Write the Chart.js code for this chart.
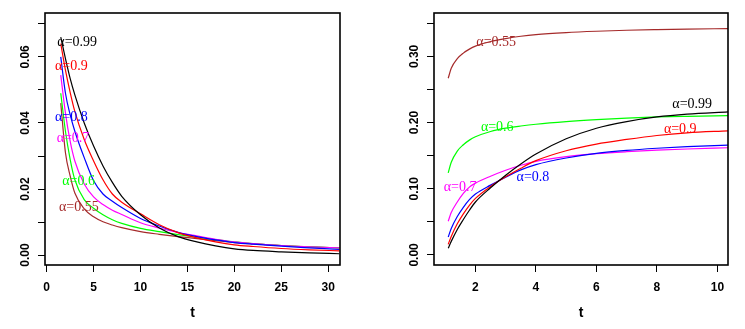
<!DOCTYPE html>
<html>
<head>
<meta charset="utf-8">
<script src="https://cdn.jsdelivr.net/npm/chart.js@4"></script>
<style>
  html, body { margin: 0; padding: 0; background: #fff; }
  #wrap { position: relative; width: 745px; height: 329px; }
  canvas { position: absolute; top: 0; }
</style>
</head>
<body>
<div id="wrap">
  <canvas id="left" width="372" height="329" style="left:0"></canvas>
  <canvas id="right" width="373" height="329" style="left:372px"></canvas>
</div>
<script>
// ---- shared ----
const ALPHAS = ['0.99', '0.9', '0.8', '0.7', '0.6', '0.55'];
const COLORS = ['#000000', '#ff0000', '#0000ff', '#ff00ff', '#00ff00', '#a52a2a'];

// ---- left panel: decaying curves ----
const LEFT_T = [1.5, 2, 2.5, 3, 4, 5, 6, 7, 8, 10, 12, 14, 16, 18, 20, 22, 25, 28, 31.2];
const LEFT_A099 = [0.066, 0.0595, 0.0535, 0.0485, 0.040, 0.033, 0.027, 0.022, 0.0178, 0.0122, 0.0082, 0.0056, 0.0040, 0.0028, 0.0019, 0.0014, 0.0010, 0.0007, 0.0004];
const LEFT_A09  = [0.064, 0.056, 0.0493, 0.0435, 0.0350, 0.0285, 0.0228, 0.0185, 0.0160, 0.0125, 0.0092, 0.0068, 0.0052, 0.0040, 0.0031, 0.0026, 0.0020, 0.0016, 0.0013];
const LEFT_A08  = [0.060, 0.049, 0.0425, 0.0375, 0.0295, 0.0225, 0.0185, 0.0163, 0.0144, 0.0111, 0.0088, 0.0069, 0.0056, 0.0046, 0.0038, 0.0033, 0.0027, 0.0022, 0.0017];
const LEFT_A07  = [0.0545, 0.043, 0.0345, 0.0285, 0.0215, 0.0176, 0.0153, 0.0136, 0.0123, 0.0098, 0.0082, 0.0068, 0.0058, 0.0048, 0.0040, 0.0035, 0.0029, 0.0025, 0.0022];
const LEFT_A06  = [0.049, 0.0375, 0.029, 0.0228, 0.0168, 0.0142, 0.0122, 0.0107, 0.0096, 0.0081, 0.0071, 0.0062, 0.0054, 0.0047, 0.0040, 0.0035, 0.0029, 0.0025, 0.0022];
const LEFT_A055 = [0.046, 0.031, 0.024, 0.0188, 0.0140, 0.0116, 0.0101, 0.0091, 0.0083, 0.0071, 0.0063, 0.0056, 0.0050, 0.0044, 0.0038, 0.0034, 0.0029, 0.0025, 0.0022];
const LEFT_X_TICKS = [0, 5, 10, 15, 20, 25, 30];
const LEFT_Y_TICKS = [0, 0.01, 0.02, 0.03, 0.04, 0.05, 0.06, 0.07];
const LEFT_Y_LABELS = [0, 0.02, 0.04, 0.06];
// curve label anchors (t, value), left-aligned text
const LEFT_LABEL_T = [1.13, 0.88, 0.88, 1.06, 1.66, 1.31];
const LEFT_LABEL_V = [0.0645, 0.0571, 0.0416, 0.0355, 0.0222, 0.0146];

// ---- right panel: rising curves ----
const RIGHT_T = [1.1, 1.2, 1.4, 1.6, 1.8, 2, 2.5, 3, 3.5, 4, 5, 6, 7, 8, 9, 10.35];
const RIGHT_A099 = [0.010, 0.0205, 0.0385, 0.0535, 0.0675, 0.080, 0.1015, 0.1205, 0.1375, 0.1525, 0.1755, 0.1915, 0.2015, 0.2085, 0.2128, 0.2162];
const RIGHT_A09  = [0.016, 0.028, 0.047, 0.062, 0.075, 0.0855, 0.1035, 0.118, 0.131, 0.1425, 0.1575, 0.1675, 0.1745, 0.1805, 0.1845, 0.1875];
const RIGHT_A08  = [0.027, 0.040, 0.058, 0.072, 0.0835, 0.092, 0.1055, 0.1175, 0.1285, 0.1365, 0.1465, 0.1535, 0.158, 0.1612, 0.1637, 0.166];
const RIGHT_A07  = [0.051, 0.064, 0.080, 0.093, 0.1025, 0.1085, 0.119, 0.128, 0.1355, 0.1415, 0.1485, 0.153, 0.156, 0.1583, 0.1601, 0.162];
const RIGHT_A06  = [0.124, 0.140, 0.157, 0.1665, 0.1735, 0.1785, 0.1865, 0.1915, 0.1948, 0.1975, 0.2015, 0.2045, 0.2068, 0.2085, 0.2095, 0.2105];
const RIGHT_A055 = [0.267, 0.282, 0.2965, 0.305, 0.311, 0.3155, 0.3225, 0.327, 0.3305, 0.333, 0.336, 0.338, 0.3395, 0.3405, 0.3413, 0.342];
const RIGHT_X_TICKS = [2, 4, 6, 8, 10];
const RIGHT_Y_TICKS = [0, 0.05, 0.10, 0.15, 0.20, 0.25, 0.30, 0.35];
const RIGHT_Y_LABELS = [0, 0.10, 0.20, 0.30];
const RIGHT_LABEL_T = [8.51, 8.23, 3.36, 0.95, 2.18, 2.03];
const RIGHT_LABEL_V = [0.2273, 0.1905, 0.1177, 0.102, 0.1924, 0.3208];

const AXIS_FONT = 'bold 12px "Liberation Sans", Arial, sans-serif';
const TITLE_FONT = 'bold 14px "Liberation Sans", Arial, sans-serif';
const CURVE_FONT = '14px "Liberation Serif", "Times New Roman", serif';

function makeDatasets(t, series) {
  return series.map((ys, i) => ({
    label: 'α=' + ALPHAS[i],
    data: t.map((x, j) => ({ x, y: ys[j] })),
    borderColor: COLORS[i],
    borderWidth: 1.2,
    pointRadius: 0,
    fill: false,
    cubicInterpolationMode: 'monotone',
  }));
}

// box, rotated y labels, axis title and curve labels
const decorPlugin = {
  id: 'decor',
  afterDraw(chart, args, opts) {
    const { ctx, chartArea: ca, scales } = chart;
    ctx.save();
    ctx.strokeStyle = '#000';
    ctx.lineWidth = 1.6;
    ctx.strokeRect(ca.left, ca.top, ca.right - ca.left, ca.bottom - ca.top);

    ctx.fillStyle = '#000';
    ctx.font = AXIS_FONT;
    ctx.textAlign = 'center';
    ctx.textBaseline = 'middle';
    opts.yLabels.forEach(v => {
      const y = scales.y.getPixelForValue(v);
      ctx.save();
      ctx.translate(ca.left - 19, y);
      ctx.rotate(-Math.PI / 2);
      ctx.fillText(v.toFixed(2), 0, 0);
      ctx.restore();
    });

    ctx.font = TITLE_FONT;
    ctx.fillText('t', (ca.left + ca.right) / 2, 313);

    ctx.font = CURVE_FONT;
    ctx.textAlign = 'left';
    opts.labelT.forEach((t, i) => {
      ctx.fillStyle = COLORS[i];
      ctx.fillText('α=' + ALPHAS[i], scales.x.getPixelForValue(t), scales.y.getPixelForValue(opts.labelV[i]));
    });
    ctx.restore();
  },
};

function makeChart(id, cfg) {
  return new Chart(document.getElementById(id), {
    type: 'line',
    data: { datasets: makeDatasets(cfg.t, cfg.series) },
    plugins: [decorPlugin],
    options: {
      responsive: false,
      animation: false,
      layout: { padding: { left: 0, right: cfg.padRight, top: 13, bottom: 0 } },
      plugins: {
        legend: { display: false },
        tooltip: { enabled: false },
        decor: { yLabels: cfg.yLabels, labelT: cfg.labelT, labelV: cfg.labelV },
      },
      scales: {
        x: {
          type: 'linear',
          min: cfg.xMin, max: cfg.xMax,
          afterBuildTicks: s => { s.ticks = cfg.xTicks.map(v => ({ value: v })); },
          afterFit: s => { s.height = 64; },
          border: { display: false },
          grid: { drawOnChartArea: false, drawTicks: true, tickLength: 7, tickColor: '#000', lineWidth: 1 },
          ticks: { color: '#000', font: { family: '"Liberation Sans", Arial, sans-serif', size: 12, weight: 'bold' }, padding: 8, maxRotation: 0 },
        },
        y: {
          type: 'linear',
          min: cfg.yMin, max: cfg.yMax,
          afterBuildTicks: s => { s.ticks = cfg.yTicks.map(v => ({ value: v })); },
          afterFit: s => { s.width = cfg.yWidth; },
          border: { display: false },
          grid: { drawOnChartArea: false, drawTicks: true, tickLength: 7, tickColor: '#000', lineWidth: 1 },
          ticks: { display: false },
        },
      },
    },
  });
}

makeChart('left', {
  t: LEFT_T,
  series: [LEFT_A099, LEFT_A09, LEFT_A08, LEFT_A07, LEFT_A06, LEFT_A055],
  xMin: -0.18, xMax: 31.26, yMin: -0.003, yMax: 0.0733,
  xTicks: LEFT_X_TICKS, yTicks: LEFT_Y_TICKS, yLabels: LEFT_Y_LABELS,
  labelT: LEFT_LABEL_T, labelV: LEFT_LABEL_V,
  yWidth: 45, padRight: 32,
});

makeChart('right', {
  t: RIGHT_T,
  series: [RIGHT_A099, RIGHT_A09, RIGHT_A08, RIGHT_A07, RIGHT_A06, RIGHT_A055],
  xMin: 0.63, xMax: 10.35, yMin: -0.0152, yMax: 0.3656,
  xTicks: RIGHT_X_TICKS, yTicks: RIGHT_Y_TICKS, yLabels: RIGHT_Y_LABELS,
  labelT: RIGHT_LABEL_T, labelV: RIGHT_LABEL_V,
  yWidth: 62, padRight: 17,
});
</script>
</body>
</html>
